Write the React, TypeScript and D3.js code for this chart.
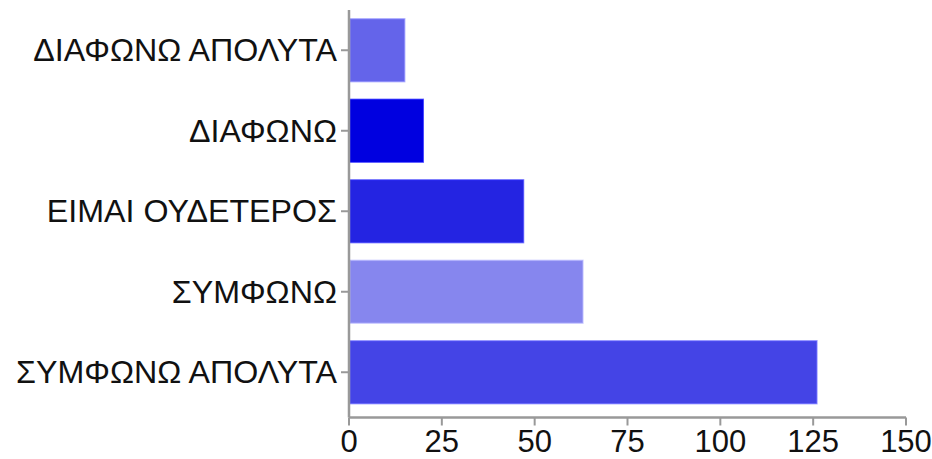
import React from "react";
import * as d3 from "d3";

const categories = ["ΔΙΑΦΩΝΩ ΑΠΟΛΥΤΑ", "ΔΙΑΦΩΝΩ", "ΕΙΜΑΙ ΟΥΔΕΤΕΡΟΣ", "ΣΥΜΦΩΝΩ", "ΣΥΜΦΩΝΩ ΑΠΟΛΥΤΑ"];
const values = [15, 20, 47, 63, 126];
const colors = ["#6464ea", "#0000e0", "#2424e2", "#8686ee", "#4444e6"];
const xTicks = [0, 25, 50, 75, 100, 125, 150];

const W = 932;
const H = 459;
const left = 349;
const right = 906;
const top = 10;
const bandBottom = 412.5;
const axisY = 417.5;
const font = "'Liberation Sans', Arial, Helvetica, sans-serif";

export default function App() {
  const x = d3.scaleLinear().domain([0, 150]).range([left, right]);
  const y = d3.scaleBand<string>().domain(categories).range([top, bandBottom]).paddingInner(0.22).paddingOuter(0.11);
  const axisColor = "#999";
  return (
    <svg width={W} height={H} style={{ position: "absolute", left: 0, top: 0 }}>
      {categories.map((c, i) => (
        <rect
          key={c}
          x={x(0) + 1}
          y={y(c)!}
          width={x(values[i]) - x(0) - 1}
          height={y.bandwidth()}
          fill={colors[i]}
          stroke={d3.color(colors[i])!.brighter(0.8).formatHex()}
          strokeOpacity={0.6}
          strokeWidth={1.5}
        />
      ))}
      <line x1={left} x2={left} y1={top} y2={axisY} stroke={axisColor} strokeWidth={2.5} />
      <line x1={left} x2={right} y1={axisY} y2={axisY} stroke={axisColor} strokeWidth={2.5} />
      {categories.map((c) => (
        <g key={"t" + c}>
          <line x1={left - 8} x2={left} y1={y(c)! + y.bandwidth() / 2} y2={y(c)! + y.bandwidth() / 2} stroke={axisColor} strokeWidth={2} />
          <text
            x={left - 12}
            y={y(c)! + y.bandwidth() / 2}
            textAnchor="end"
            dominantBaseline="central"
            fontFamily={font}
            fontSize={32.2}
            fill="#111"
          >
            {c}
          </text>
        </g>
      ))}
      {xTicks.map((t) => (
        <g key={"x" + t}>
          <line x1={x(t)} x2={x(t)} y1={axisY} y2={axisY + 8} stroke={axisColor} strokeWidth={2} />
          <text x={x(t)} y={axisY + 24} textAnchor="middle" dominantBaseline="central" fontFamily={font} fontSize={31} fill="#111">
            {t}
          </text>
        </g>
      ))}
    </svg>
  );
}
